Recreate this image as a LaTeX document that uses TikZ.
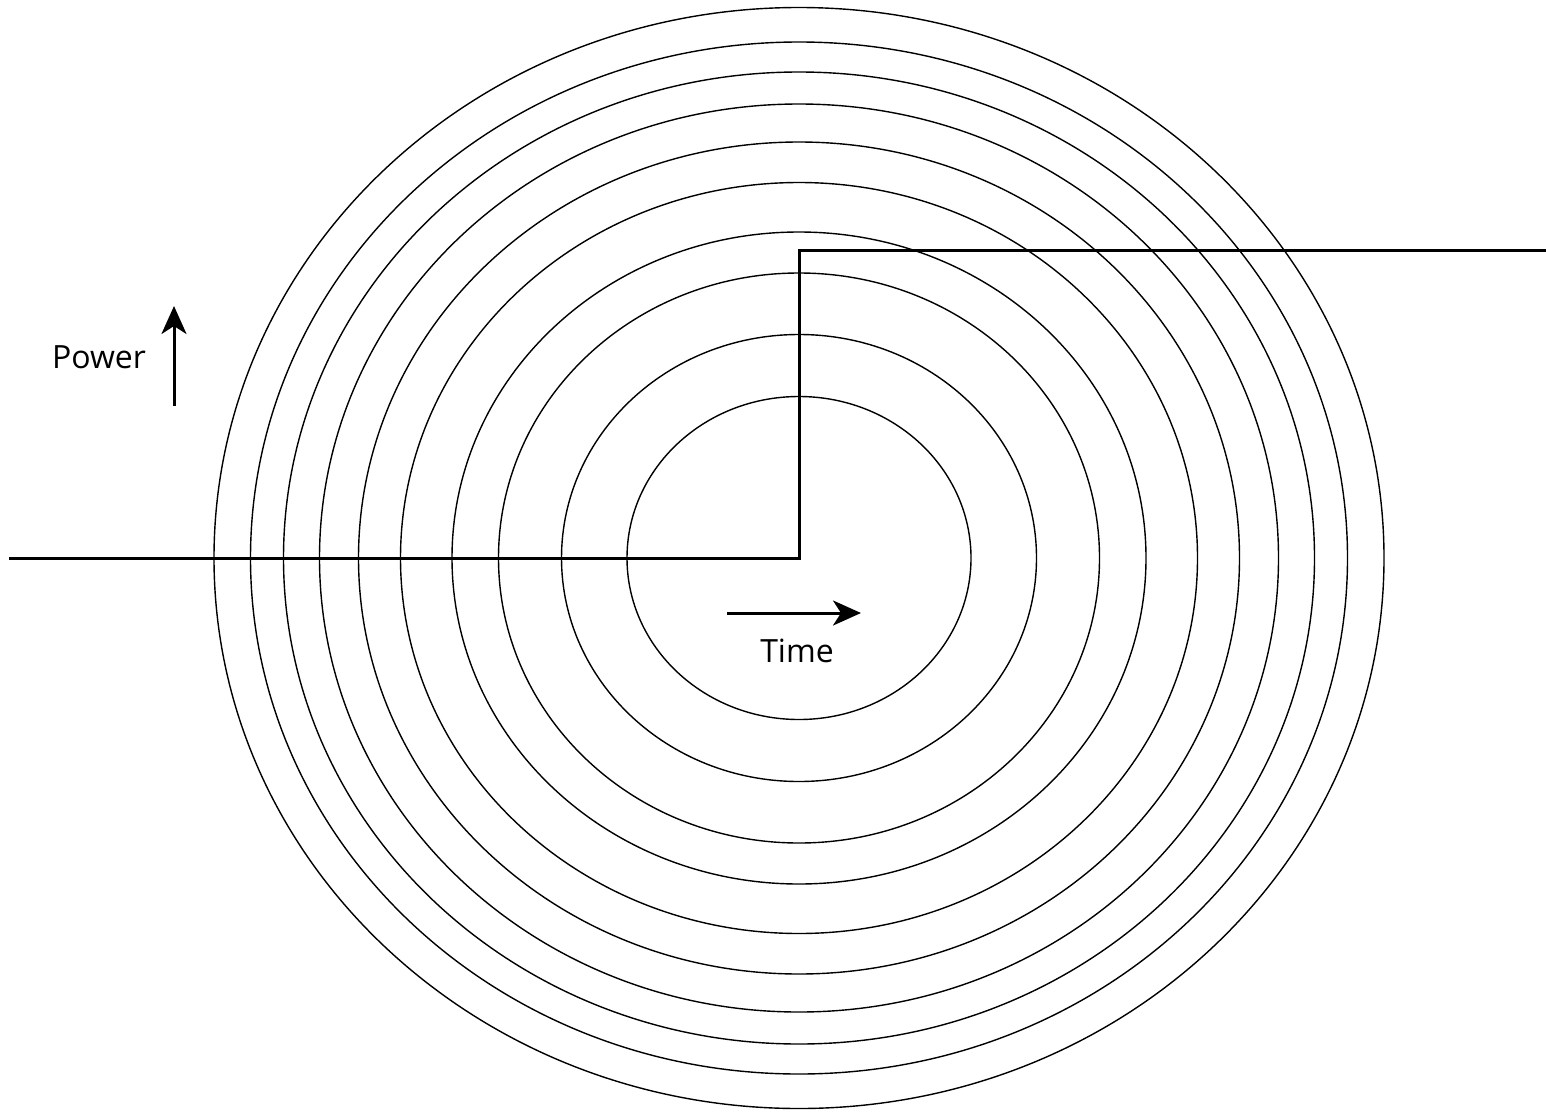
\documentclass[tikz,border=0pt]{standalone}
\usepackage{fontspec}
\setmainfont{Open Sans}
\usetikzlibrary{arrows.meta}
\begin{document}
\begin{tikzpicture}[x=1pt,y=-1pt,
  ring/.style={line width=1.4pt},
  stepline/.style={line width=3pt},
  axisarrow/.style={line width=3pt,-{Stealth[length=28pt,width=25pt,inset=8pt]}},
  lbl/.style={font=\fontsize{32}{36}\selectfont,inner sep=0pt}]
\useasboundingbox (0,0) rectangle (1546,1111);
\coordinate (c) at (799,558);
\foreach \rx/\ry in {172/161.5,237.5/223.5,300.5/285,347/326,398.5/375.5,440.5/416,479.5/454,515.5/486,548.5/516,585/550.5}{
  \draw[ring] (c) ellipse [x radius=\rx, y radius=\ry];
}
\coordinate (s0) at (9,558);
\coordinate (s1) at (799,558);
\coordinate (s2) at (799,250);
\coordinate (s3) at (1546,250);
\draw[stepline,line join=miter] (s0) -- (s1) -- (s2) -- (s3);
\coordinate (pa) at (174,406);
\coordinate (pb) at (174,306);
\draw[axisarrow] (pa) -- (pb);
\coordinate (ta) at (727,613);
\coordinate (tb) at (861,613);
\draw[axisarrow] (ta) -- (tb);
\node[lbl] (power) at (99,357) {Power};
\node[lbl] (time) at (797,651) {Time};
\end{tikzpicture}
\end{document}
